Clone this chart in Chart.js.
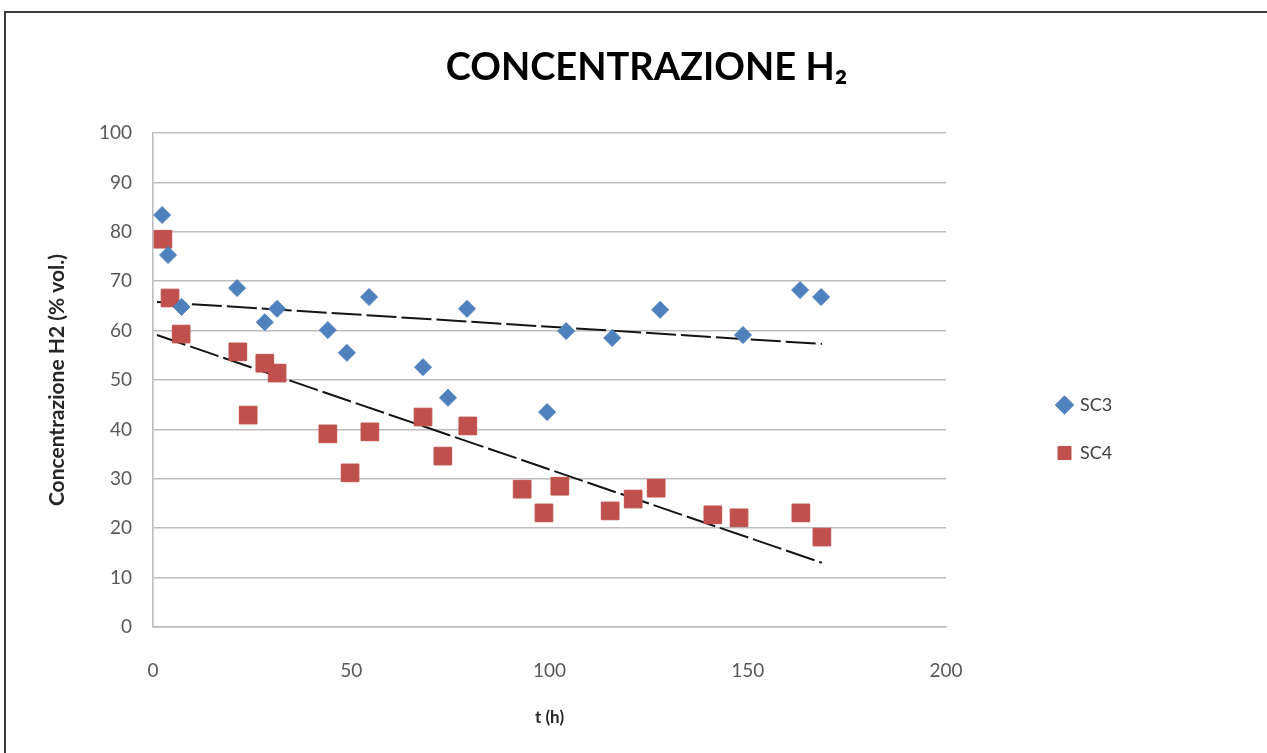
<!DOCTYPE html>
<html>
<head>
<meta charset="utf-8">
<script src="https://cdn.jsdelivr.net/npm/chart.js@4.4.0/dist/chart.umd.min.js"></script>
<style>
    html, body { margin: 0; padding: 0; background: #fff; overflow: hidden; }
    #wrap { position: relative; width: 1267px; height: 753px; }
    #frame { position: absolute; left: 4px; top: 11px; width: 1400px; height: 900px;
             border: 2px solid #3a3a3a; pointer-events: none; }
</style>
</head>
<body>
<div id="wrap">
    <canvas id="chart" width="1267" height="753"></canvas>
    <div id="frame"></div>
</div>
<script>
    // valori
    const sc3X = [2.3, 3.8, 7.2, 21.2, 28.2, 31.3, 44.1, 48.9, 54.5, 68.1, 74.4, 79.2, 99.4, 104.2, 115.8, 127.9, 148.8, 163.2, 168.5];
    const sc3Y = [83.4, 75.3, 64.8, 68.6, 61.7, 64.4, 60.1, 55.5, 66.8, 52.6, 46.4, 64.4, 43.5, 59.9, 58.5, 64.2, 59.1, 68.2, 66.8];

    const sc4X = [2.5, 4.3, 7.1, 21.4, 24.0, 28.2, 31.3, 44.1, 49.7, 54.7, 68.1, 73.1, 79.4, 93.1, 98.6, 102.6, 115.3, 121.1, 126.9, 141.2, 147.8, 163.4, 168.7];
    const sc4Y = [78.5, 66.6, 59.3, 55.7, 42.9, 53.4, 51.4, 39.1, 31.2, 39.5, 42.5, 34.6, 40.7, 27.9, 23.1, 28.5, 23.5, 25.9, 28.1, 22.7, 22.1, 23.1, 18.2];

    // estremi delle linee di tendenza
    const trendX = [1, 168.7];
    const trend3Y = [65.8, 57.3];
    const trend4Y = [59.1, 13.0];

    const seriesNames = ['SC3', 'SC4'];
    const xTicks = [0, 50, 100, 150, 200];
    const yTicks = [0, 10, 20, 30, 40, 50, 60, 70, 80, 90, 100];

    const FONT = 'Lato, "Open Sans", sans-serif';
    const GRID = '#bdbdbd';

    function toPoints(xs, ys) {
        return xs.map((x, i) => ({x: x, y: ys[i]}));
    }

    function trendDataset(ys) {
        return {
            type: 'line',
            data: toPoints(trendX, ys),
            borderColor: '#141414',
            borderWidth: 2,
            borderDash: [30, 5],
            pointRadius: 0,
            fill: false,
        };
    }

    // sposta la legenda nel punto giusto, a destra del grafico
    const legendSpot = {
        id: 'legendSpot',
        afterLayout(chart) {
            const lg = chart.legend;
            lg.left = 1028; lg.right = 1200;
            lg.top = 366; lg.bottom = 520;
            lg.width = lg.right - lg.left;
            lg.height = lg.bottom - lg.top;
        }
    };

    const ctx = document.getElementById('chart').getContext('2d');
    const chart = new Chart(ctx, {
        type: 'scatter',
        data: {
            datasets: [{
                label: seriesNames[0],
                data: toPoints(sc3X, sc3Y),
                pointStyle: 'rectRot',
                pointRadius: 8.5,
                backgroundColor: '#4F81BD',
                borderColor: '#4F81BD',
                borderWidth: 1,
            }, {
                label: seriesNames[1],
                data: toPoints(sc4X, sc4Y),
                pointStyle: 'rect',
                pointRadius: 12.5,
                backgroundColor: '#C0504D',
                borderColor: '#C0504D',
                borderWidth: 1,
            },
            trendDataset(trend3Y),
            trendDataset(trend4Y)]
        },
        options: {
            responsive: false,
            animation: false,
            layout: {padding: {left: 26, right: 0, top: 0, bottom: 0}},
            plugins: {
                title: {
                    display: true,
                    text: 'CONCENTRAZIONE H₂',
                    color: '#000',
                    font: {family: FONT, size: 38, weight: 'bold', lineHeight: 1.2},
                    padding: {top: 45.2, bottom: 42.2},
                },
                legend: {
                    position: 'chartArea',
                    align: 'start',
                    labels: {
                        filter: (item) => item.datasetIndex < 2,
                        usePointStyle: true,
                        boxWidth: 13,
                        boxHeight: 13,
                        padding: 30,
                        color: '#404040',
                        font: {family: FONT, size: 18},
                    },
                },
                tooltip: {enabled: false},
            },
            scales: {
                x: {
                    type: 'linear',
                    min: 0,
                    max: 200,
                    afterBuildTicks: (s) => { s.ticks = xTicks.map(v => ({value: v})); },
                    afterFit: (s) => { s.height = 126; },
                    grid: {display: false},
                    border: {color: GRID, width: 1.6},
                    ticks: {color: '#595959', padding: 24, font: {family: FONT, size: 19}},
                    title: {
                        display: true,
                        text: 't (h)',
                        color: '#262626',
                        font: {family: FONT, size: 17, weight: 'bold', lineHeight: 1.2},
                        padding: {top: 0, bottom: 24.8},
                    },
                },
                y: {
                    min: 0,
                    max: 100,
                    afterBuildTicks: (s) => { s.ticks = yTicks.map(v => ({value: v})); },
                    afterFit: (s) => { s.width = 127; },
                    grid: {color: GRID, lineWidth: 1.6, drawTicks: false},
                    border: {color: GRID, width: 1.6},
                    ticks: {color: '#595959', padding: 21, font: {family: FONT, size: 19}},
                    title: {
                        display: true,
                        text: 'Concentrazione H2 (% vol.)',
                        color: '#262626',
                        font: {family: FONT, size: 21, weight: 'bold', lineHeight: 1.2},
                        padding: {top: 18.4, bottom: 0},
                    },
                },
                // asse vuoto: riserva lo spazio a destra per la legenda
                side: {
                    type: 'linear',
                    position: 'right',
                    min: 0,
                    max: 1,
                    ticks: {display: false},
                    grid: {display: false, drawTicks: false},
                    border: {display: false},
                    afterFit: (s) => { s.width = 321; },
                },
            },
        },
        plugins: [legendSpot],
    });
</script>
</body>
</html>
